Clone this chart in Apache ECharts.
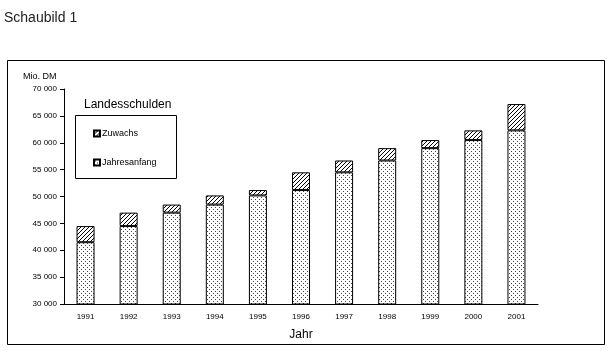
<!DOCTYPE html>
<html>
<head>
<meta charset="utf-8">
<title>Schaubild 1</title>
<script src="https://cdn.jsdelivr.net/npm/echarts@6/dist/echarts.min.js"></script>
<style>
  html, body { margin: 0; padding: 0; background: #fff; }
  #chart { width: 610px; height: 352px; }
</style>
</head>
<body>
<div id="chart"></div>
<script>
// Landesschulden in Mio. DM
var years = ['1991', '1992', '1993', '1994', '1995', '1996', '1997', '1998', '1999', '2000', '2001'];
var jahresanfang = [41500, 44500, 47000, 48500, 50200, 51200, 54500, 56700, 59000, 60500, 62300];
var zuwachs = [3000, 2500, 1500, 1700, 1000, 3300, 2200, 2300, 1500, 1800, 4900];

var FONT = '"Liberation Sans", Arial, sans-serif';

// small canvas tiles for the fill patterns
function dotPattern() {
  var c = document.createElement('canvas');
  c.width = 4; c.height = 4;
  var ctx = c.getContext('2d');
  ctx.fillStyle = '#fff';
  ctx.fillRect(0, 0, 4, 4);
  ctx.fillStyle = '#444';
  ctx.fillRect(1, 1, 1, 1);
  ctx.fillRect(3, 3, 1, 1);
  return c;
}
function hatchPattern() {
  var c = document.createElement('canvas');
  c.width = 4; c.height = 4;
  var ctx = c.getContext('2d');
  ctx.fillStyle = '#fff';
  ctx.fillRect(0, 0, 4, 4);
  ctx.strokeStyle = '#000';
  ctx.lineWidth = 1;
  ctx.beginPath();
  ctx.moveTo(-1, 5); ctx.lineTo(5, -1);
  ctx.stroke();
  return c;
}

var chart = echarts.init(document.getElementById('chart'), null, { renderer: 'canvas' });

chart.setOption({
  backgroundColor: '#ffffff',
  animation: false,
  textStyle: { fontFamily: FONT },
  grid: { left: 64, right: 72, top: 89, bottom: 48 },
  legend: {
    orient: 'vertical',
    left: 88,
    top: 124,
    itemWidth: 6,
    itemHeight: 6,
    itemGap: 20,
    icon: 'rect',
    data: ['Zuwachs', 'Jahresanfang'],
    textStyle: { fontSize: 9, color: '#000', padding: [0, 0, 0, -3] },
    selectedMode: false
  },
  xAxis: {
    type: 'category',
    data: years,
    axisLine: { lineStyle: { color: '#000', width: 1 } },
    axisTick: { length: 3, lineStyle: { color: '#000' } },
    axisLabel: { fontSize: 8, color: '#000', margin: 9 },
    name: 'Jahr',
    nameLocation: 'middle',
    nameGap: 25,
    nameTextStyle: { fontSize: 12, color: '#000' }
  },
  yAxis: {
    type: 'value',
    min: 30000,
    max: 70000,
    interval: 5000,
    axisLine: { show: true, lineStyle: { color: '#000', width: 1 } },
    axisTick: { show: true, length: 4, lineStyle: { color: '#000' } },
    splitLine: { show: false },
    axisLabel: {
      fontSize: 8,
      color: '#000',
      margin: 7,
      formatter: function (v) {
        return String(v).replace(/(\d)(\d{3})$/, '$1 $2');
      }
    }
  },
  series: [
    {
      name: 'Jahresanfang',
      type: 'bar',
      stack: 'schulden',
      barWidth: 18,
      data: jahresanfang,
      itemStyle: {
        color: { image: dotPattern(), repeat: 'repeat' },
        borderColor: '#000',
        borderWidth: 1
      }
    },
    {
      name: 'Zuwachs',
      type: 'bar',
      stack: 'schulden',
      barWidth: 18,
      data: zuwachs,
      itemStyle: {
        color: { image: hatchPattern(), repeat: 'repeat' },
        borderColor: '#000',
        borderWidth: 1
      }
    }
  ],
  graphic: [
    {
      type: 'text',
      left: 4,
      top: 11,
      style: { text: 'Schaubild 1', font: '14px ' + FONT, fill: '#222' }
    },
    {
      type: 'rect',
      shape: { x: 7.5, y: 60.5, width: 597, height: 284 },
      style: { fill: null, stroke: '#000', lineWidth: 1 },
      z: -1
    },
    {
      type: 'text',
      left: 23,
      top: 72,
      style: { text: 'Mio. DM', font: '9px ' + FONT, fill: '#000' }
    },
    {
      type: 'text',
      left: 84,
      top: 99,
      style: { text: 'Landesschulden', font: '12px ' + FONT, fill: '#000' }
    },
    {
      type: 'rect',
      shape: { x: 75.5, y: 115.5, width: 101, height: 63 },
      style: { fill: null, stroke: '#000', lineWidth: 1 }
    }
  ]
});
</script>
</body>
</html>
